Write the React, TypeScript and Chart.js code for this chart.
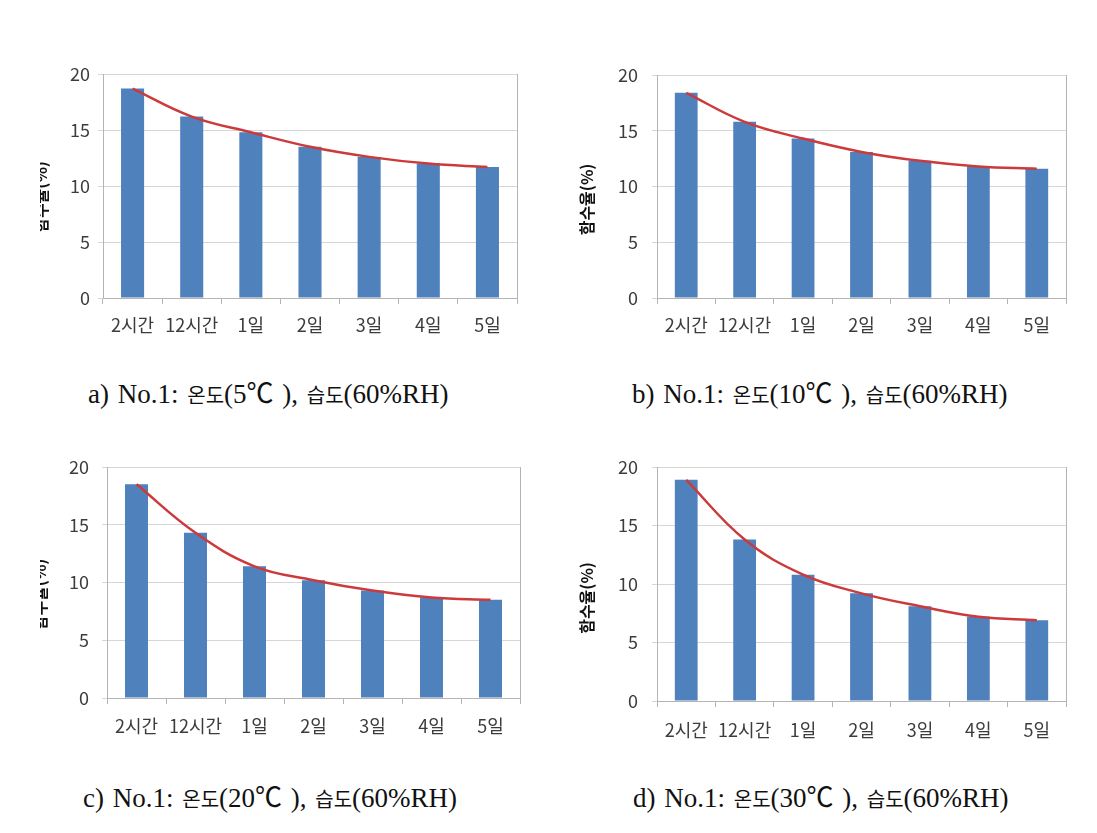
import React, { useEffect, useRef } from "react";
import { Chart, registerables } from "chart.js";

Chart.register(...registerables);

// ---------- data ----------
const categories = ["2시간", "12시간", "1일", "2일", "3일", "4일", "5일"];
const seriesA = [18.7, 16.2, 14.8, 13.5, 12.6, 12.0, 11.7];
const seriesB = [18.4, 15.8, 14.3, 13.1, 12.3, 11.8, 11.6];
const seriesC = [18.5, 14.3, 11.4, 10.2, 9.3, 8.7, 8.5];
const seriesD = [18.9, 13.8, 10.8, 9.2, 8.1, 7.2, 6.9];
const yTicks = [0, 5, 10, 15, 20];
const yTitle = "함수율(%)";
const captionA = "a) No.1: 온도(5℃ ), 습도(60%RH)";
const captionB = "b) No.1: 온도(10℃ ), 습도(60%RH)";
const captionC = "c) No.1: 온도(20℃ ), 습도(60%RH)";
const captionD = "d) No.1: 온도(30℃ ), 습도(60%RH)";

// ---------- styles / layout ----------
const BAR = "#4f81bd";
const LINE = "#cc3a3c";
const GRID = "#d6d6d6";
const AXIS = "#b4b4b4";
const TICK_COLOR = "#3c3c3c";
const TICK_FONT = { family: '"Noto Sans CJK KR", "DejaVu Sans", sans-serif', size: 18 };

type Box = {
  left: number; top: number; w: number; h: number;
  yW: number; xH: number; padT: number; padR: number;
  yPad: number; xPad: number; titleX: number; titleDy: number;
};

const boxA: Box = { left: 40, top: 50, w: 490, h: 320, yW: 63, xH: 72, padT: 24, padR: 13, yPad: 8, xPad: 10, titleX: 1, titleDy: 11 };
const boxB: Box = { left: 560, top: 50, w: 520, h: 320, yW: 97, xH: 72, padT: 25, padR: 14, yPad: 14, xPad: 10, titleX: 27, titleDy: 13 };
const boxC: Box = { left: 40, top: 440, w: 490, h: 330, yW: 67, xH: 72, padT: 27, padR: 10, yPad: 13, xPad: 11, titleX: 0, titleDy: 12 };
const boxD: Box = { left: 560, top: 440, w: 520, h: 330, yW: 97, xH: 69, padT: 27, padR: 14, yPad: 14, xPad: 12, titleX: 27, titleDy: 14 };

const framePlugin = {
  id: "frameAndTitle",
  beforeDatasetsDraw(chart: any) {
    const { ctx, chartArea } = chart;
    ctx.save();
    ctx.strokeStyle = AXIS;
    ctx.lineWidth = 1;
    ctx.beginPath();
    const x = Math.round(chartArea.right) + 0.5;
    ctx.moveTo(x, chartArea.top);
    ctx.lineTo(x, chartArea.bottom + 6);
    ctx.stroke();
    ctx.restore();
  },
  afterDraw(chart: any, _args: any, opts: any) {
    const { ctx, chartArea } = chart;
    ctx.save();
    const cy = (chartArea.top + chartArea.bottom) / 2 + (opts.dy || 0);
    ctx.translate(opts.x || 0, cy);
    ctx.rotate(-Math.PI / 2);
    ctx.textAlign = "center";
    ctx.textBaseline = "middle";
    ctx.fillStyle = "#111";
    ctx.font = 'bold 16px "Noto Sans CJK KR", sans-serif';
    ctx.fillText(opts.text || "", 0, 0);
    ctx.restore();
  },
};

function Panel({ values, box }: { values: number[]; box: Box }) {
  const ref = useRef<HTMLCanvasElement | null>(null);
  useEffect(() => {
    if (!ref.current) return;
    const chart = new Chart(ref.current, {
      type: "bar",
      data: {
        labels: categories,
        datasets: [
          {
            type: "line",
            data: values,
            borderColor: LINE,
            borderWidth: 2.5,
            pointRadius: 0,
            tension: 0.4,
            fill: false,
            order: 0,
          } as any,
          {
            type: "bar",
            data: values,
            backgroundColor: BAR,
            borderWidth: 0,
            barPercentage: 0.39,
            categoryPercentage: 1,
            order: 1,
          } as any,
        ],
      },
      options: {
        animation: false,
        responsive: false,
        maintainAspectRatio: false,
        layout: { padding: { left: 0, right: box.padR, top: box.padT, bottom: 0 } },
        plugins: {
          legend: { display: false },
          tooltip: { enabled: false },
          frameAndTitle: { x: box.titleX, dy: box.titleDy, text: yTitle },
        } as any,
        scales: {
          x: {
            offset: true,
            grid: { offset: true, drawOnChartArea: false, tickLength: 6, color: AXIS },
            border: { color: AXIS },
            ticks: { font: TICK_FONT, color: TICK_COLOR, padding: box.xPad, maxRotation: 0, autoSkip: false },
            afterFit: (s: any) => { s.height = box.xH; },
          },
          y: {
            min: yTicks[0],
            max: yTicks[yTicks.length - 1],
            afterBuildTicks: (s: any) => { s.ticks = yTicks.map((v) => ({ value: v })); },
            grid: { color: GRID, tickLength: 5 },
            border: { color: AXIS },
            ticks: { font: TICK_FONT, color: TICK_COLOR, padding: box.yPad },
            afterFit: (s: any) => { s.width = box.yW; },
          },
        },
      } as any,
      plugins: [framePlugin],
    });
    return () => chart.destroy();
  }, [values, box]);
  return (
    <canvas
      ref={ref}
      width={box.w}
      height={box.h}
      style={{ position: "absolute", left: box.left, top: box.top, width: box.w, height: box.h, display: "block" }}
    />
  );
}

function Caption({ text, x, y }: { text: string; x: number; y: number }) {
  // split into Hangul runs and other runs so each gets its own size
  const parts = text.split(/([\uac00-\ud7a3]+)/).filter((p) => p.length > 0);
  return (
    <div
      style={{
        position: "absolute",
        left: x,
        top: y - 30,
        height: 36,
        lineHeight: "36px",
        fontFamily: '"Liberation Serif", "Noto Sans CJK KR", serif',
        fontSize: 27,
        color: "#111",
        whiteSpace: "pre",
        wordSpacing: 2,
      }}
    >
      {parts.map((p, i) =>
        /[\uac00-\ud7a3]/.test(p) ? (
          <span key={i} style={{ fontSize: 20 }}>{p}</span>
        ) : (
          <span key={i}>{p}</span>
        )
      )}
    </div>
  );
}

export default function App() {
  return (
    <div style={{ position: "absolute", left: 0, top: 0, width: 1097, height: 833, background: "#fff", overflow: "hidden" }}>
      <Panel values={seriesA} box={boxA} />
      <Panel values={seriesB} box={boxB} />
      <Panel values={seriesC} box={boxC} />
      <Panel values={seriesD} box={boxD} />
      <Caption text={captionA} x={88} y={406} />
      <Caption text={captionB} x={632} y={406} />
      <Caption text={captionC} x={83} y={810} />
      <Caption text={captionD} x={633} y={810} />
    </div>
  );
}
